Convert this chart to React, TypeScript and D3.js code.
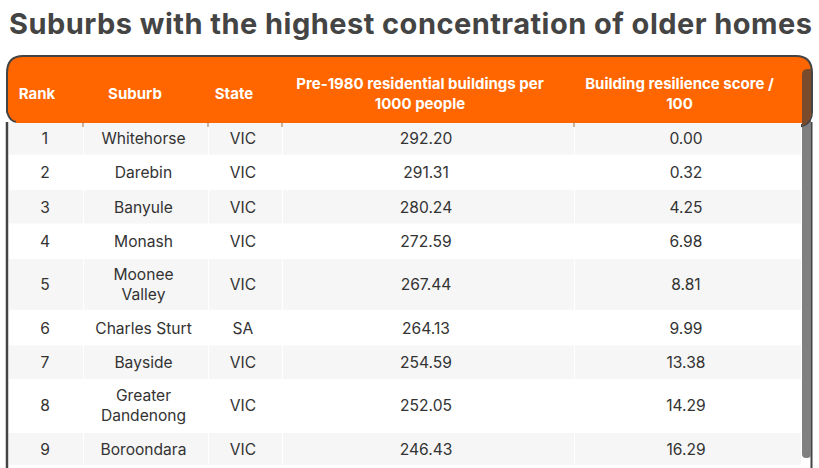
import React, { useEffect, useRef } from "react";
import * as d3 from "d3";

const titleText = "Suburbs with the highest concentration of older homes";
const columnHeaders = ["Rank", "Suburb", "State", "Pre-1980 residential buildings per|1000 people", "Building resilience score /|100"];
const ranks = ["1", "2", "3", "4", "5", "6", "7", "8", "9"];
const suburbs = ["Whitehorse", "Darebin", "Banyule", "Monash", "Moonee|Valley", "Charles Sturt", "Bayside", "Greater|Dandenong", "Boroondara"];
const states = ["VIC", "VIC", "VIC", "VIC", "VIC", "SA", "VIC", "VIC", "VIC"];
const buildings = ["292.20", "291.31", "280.24", "272.59", "267.44", "264.13", "254.59", "252.05", "246.43"];
const scores = ["0.00", "0.32", "4.25", "6.98", "8.81", "9.99", "13.38", "14.29", "16.29"];

const W = 819, H = 468;
const FONT = "Inter, 'Open Sans', sans-serif";
const colEdges = [9, 83, 208, 282, 574, 801];
const rowEdges = [122, 155.5, 190, 224.5, 259, 311, 345.5, 380, 433, 466];

export default function App() {
  const ref = useRef<SVGSVGElement>(null);
  useEffect(() => {
    const svg = d3.select(ref.current!);
    svg.selectAll("*").remove();

    svg.append("text").attr("x", 9).attr("y", 34).attr("font-family", FONT).attr("font-weight", 700)
      .attr("font-size", 29).attr("letter-spacing", 0.47).attr("fill", "#444444").text(titleText);

    const frame = svg.append("g");
    const rows = [ranks, suburbs, states, buildings, scores];
    const x = d3.scaleOrdinal<number, number>().domain(d3.range(5)).range(colEdges.slice(0, 5));
    const xEnd = d3.scaleOrdinal<number, number>().domain(d3.range(5)).range(colEdges.slice(1));

    const body = frame.append("g");
    ranks.forEach((_, r) => {
      const y0 = rowEdges[r], y1 = rowEdges[r + 1];
      d3.range(5).forEach((c) => {
        body.append("rect").attr("x", x(c) + (c ? 1 : 0)).attr("y", y0).attr("width", xEnd(c) - x(c) - (c ? 1 : 0))
          .attr("height", y1 - y0 - 1).attr("fill", r % 2 === 0 ? "#f6f6f6" : "#ffffff");
        const lines = rows[c][r].split("|");
        const cx = c === 0 ? 45 : (x(c) + xEnd(c)) / 2 - (c === 4 ? 1.5 : 2);
        const tall = y1 - y0 > 40;
        const cy = (y0 + y1) / 2 - (tall ? 1 : 0);
        lines.forEach((l, i) => {
          body.append("text").attr("x", cx).attr("y", cy + (i - (lines.length - 1) / 2) * 20 + 5.5)
            .attr("text-anchor", "middle").attr("font-family", FONT).attr("font-size", 15.6).attr("fill", "#333333").text(l);
        });
      });
    });

    frame.append("path").attr("d", "M7,122 V468").attr("stroke", "#444444").attr("stroke-width", 2.5).attr("fill", "none");
    frame.append("path").attr("d", "M811.5,122 V468").attr("stroke", "#444444").attr("stroke-width", 2).attr("fill", "none");

    frame.append("rect").attr("x", 802).attr("y", 118).attr("width", 9).attr("height", 340).attr("rx", 4).attr("fill", "#808080");

    frame.append("path").attr("d", "M7,112 V73 Q7,56 23,56 H796 Q812,56 812,73 V112 Q812,123 802,126 V122 H17 Q10,122 7,112 Z")
      .attr("fill", "#ff6600").attr("stroke", "#444444").attr("stroke-width", 2);
    frame.append("path").attr("d", "M802,126 V75 Q802,69 807,69 H811 V112 Q811,122 802,126 Z").attr("fill", "#7a4a2c");
    frame.append("line").attr("x1", 16).attr("x2", 802).attr("y1", 122).attr("y2", 122).attr("stroke", "#ff6600").attr("stroke-width", 2.4);
    frame.append("rect").attr("x", 16).attr("y", 123).attr("width", 786).attr("height", 1).attr("fill", "#f6f6f6");

    colEdges.slice(1, 5).forEach((e) => {
      frame.append("line").attr("x1", e).attr("x2", e).attr("y1", 122).attr("y2", 127).attr("stroke", "#a86a3c").attr("stroke-width", 1);
    });

    columnHeaders.forEach((h, c) => {
      const lines = h.split("|");
      const cx = c === 0 ? 37 : c === 1 ? 135 : c === 2 ? 234 : (x(c) + xEnd(c)) / 2 - 8;
      const cy = lines.length > 1 ? 93.7 : 93;
      lines.forEach((l, i) => {
        frame.append("text").attr("x", cx).attr("y", cy + (i - (lines.length - 1) / 2) * 20 + 5.5)
          .attr("text-anchor", "middle").attr("font-family", FONT).attr("font-weight", 700).attr("font-size", 15).attr("fill", "#ffffff").text(l);
      });
    });
  }, []);
  return <svg ref={ref} width={W} height={H} viewBox={`0 0 ${W} ${H}`} style={{ position: "absolute", left: 0, top: 0, display: "block", background: "#fff" }} />;
}
